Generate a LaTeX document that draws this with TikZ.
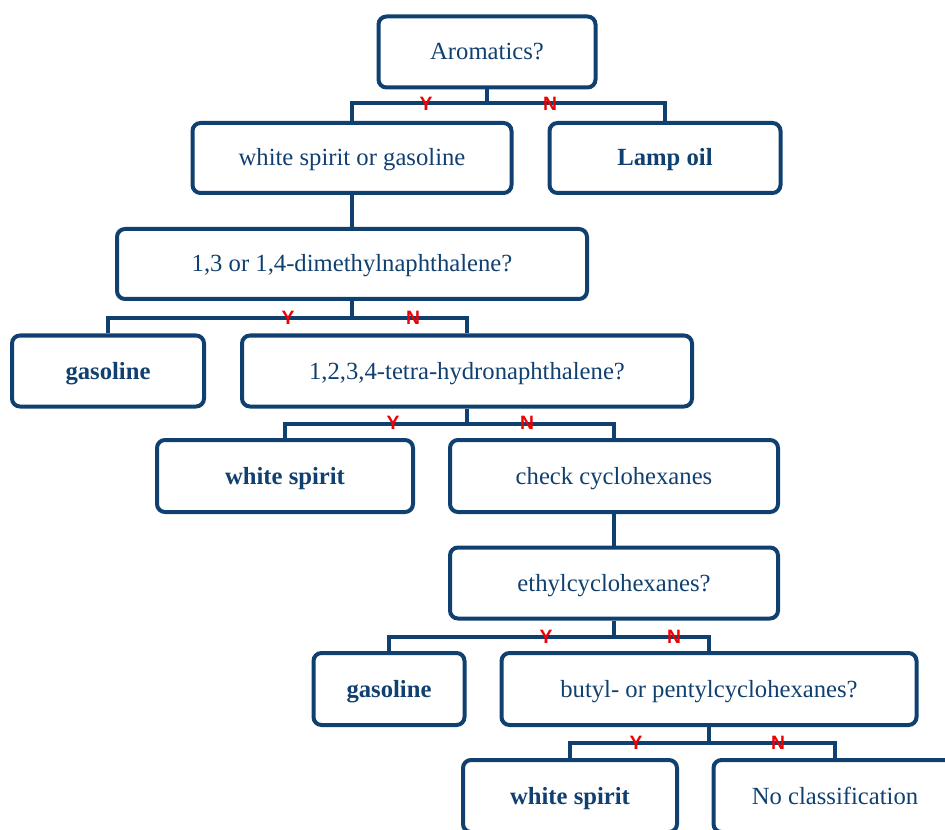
\documentclass[tikz,border=0pt]{standalone}
\usepackage{fontspec}
\setmainfont{Liberation Serif}
\newfontfamily\ynfont{Liberation Sans}
\definecolor{boxblue}{RGB}{16,64,112}
\definecolor{ynred}{RGB}{240,0,0}
\begin{document}
\begin{tikzpicture}[x=0.75pt,y=-0.75pt,
  box/.style={draw=boxblue, line width=3pt, rounded corners=6pt, text=boxblue,
    font=\fontsize{18.5}{21}\selectfont, inner sep=0pt, align=center,
    text height=15pt, text depth=3pt},
  bbox/.style={box, font=\fontsize{18.5}{21}\selectfont\bfseries},
  link/.style={draw=boxblue, line width=3pt},
  yn/.style={text=ynred, font=\fontsize{14.5}{16}\selectfont\ynfont\bfseries, inner sep=0pt}]
\useasboundingbox (0,0) rectangle (945,830);
\clip (0,0) rectangle (945,830);
% boxes
\node[box, minimum width=162.75pt, minimum height=53.25pt] (a) at (487,52) {Aromatics?};
\node[box, minimum width=239.25pt, minimum height=52.5pt] (b) at (352,158) {white spirit or gasoline};
\node[bbox, minimum width=173.25pt, minimum height=52.5pt] (c) at (665,158) {Lamp oil};
\node[box, minimum width=352.5pt, minimum height=52.5pt] (d) at (352,264) {1,3 or 1,4-dimethylnaphthalene?};
\node[bbox, minimum width=144pt, minimum height=53.25pt] (e) at (108,371) {gasoline};
\node[box, minimum width=337.5pt, minimum height=53.25pt] (f) at (467,371) {1,2,3,4-tetra-hydronaphthalene?};
\node[bbox, minimum width=192pt, minimum height=54pt] (g) at (285,476) {white spirit};
\node[box, minimum width=246pt, minimum height=54pt] (h) at (614,476) {check cyclohexanes};
\node[box, minimum width=246pt, minimum height=53.25pt] (i) at (614,583) {ethylcyclohexanes?};
\node[bbox, minimum width=113.25pt, minimum height=54pt] (j) at (389,689) {gasoline};
\node[box, minimum width=311.25pt, minimum height=54pt] (k) at (709,689) {butyl- or pentylcyclohexanes?};
\node[bbox, minimum width=160.5pt, minimum height=54pt] (l) at (570,796) {white spirit};
\node[box, minimum width=182.25pt, minimum height=54pt] (m) at (835,796) {No classification};
% junctions
\coordinate (ja) at (487,103);
\coordinate (jd) at (352,318);
\coordinate (jf) at (467,424);
\coordinate (ji) at (614,637);
\coordinate (jk) at (709,743);
% connectors
\draw[link] (a.south) -- (ja);
\draw[link] (b.north) -- (b.north |- ja) -- (c.north |- ja) -- (c.north);
\draw[link] (b.south) -- (d.north);
\draw[link] (d.south) -- (jd);
\draw[link] (e.north) -- (e.north |- jd) -- (f.north |- jd) -- (f.north);
\draw[link] (f.south) -- (jf);
\draw[link] (g.north) -- (g.north |- jf) -- (h.north |- jf) -- (h.north);
\draw[link] (h.south) -- (i.north);
\draw[link] (i.south) -- (ji);
\draw[link] (j.north) -- (j.north |- ji) -- (k.north |- ji) -- (k.north);
\draw[link] (k.south) -- (jk);
\draw[link] (l.north) -- (l.north |- jk) -- (m.north |- jk) -- (m.north);
% Y/N labels
\node[yn] (ya) at (426,104) {Y};
\node[yn] (na) at (550,104) {N};
\node[yn] (yd) at (288,318) {Y};
\node[yn] (nd) at (413,318) {N};
\node[yn] (yf) at (393,423) {Y};
\node[yn] (nf) at (527,423) {N};
\node[yn] (yi) at (546,637) {Y};
\node[yn] (ni) at (674,637) {N};
\node[yn] (yk) at (636,743) {Y};
\node[yn] (nk) at (778,743) {N};
\end{tikzpicture}
\end{document}
